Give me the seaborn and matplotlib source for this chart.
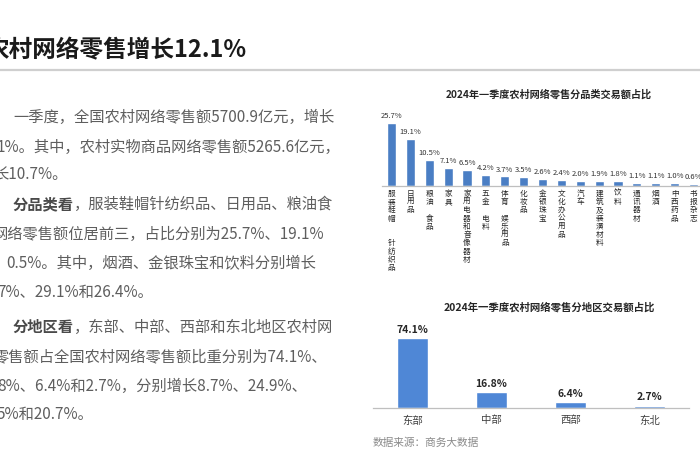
import matplotlib
matplotlib.use("Agg")
import matplotlib.pyplot as plt
import seaborn as sns

# 分品类交易额占比 (%)
categories = ["服装鞋帽  针纺织品", "日用品", "粮油 食品", "家具", "家用电器和音像器材", "五金 电料",
              "体育 娱乐用品", "化妆品", "金银珠宝", "文化办公用品", "汽车", "建筑及装潢材料",
              "饮料", "通讯器材", "烟酒", "中西药品", "书报杂志"]
category_share = [25.7, 19.1, 10.5, 7.1, 6.5, 4.2, 3.7, 3.5, 2.6, 2.4, 2.0, 1.9, 1.8, 1.1, 1.1, 1.0, 0.6]

# 分地区交易额占比 (%)
regions = ["东部", "中部", "西部", "东北"]
region_share = [74.1, 16.8, 6.4, 2.7]

page_title = "农村网络零售增长12.1%"
chart1_title = "2024年一季度农村网络零售分品类交易额占比"
chart2_title = "2024年一季度农村网络零售分地区交易额占比"
source_note = "数据来源：商务大数据"

# 左侧正文（被裁掉的行首保持原样）
body = [
    (13, 117, None, "一季度，全国农村网络零售额5700.9亿元，增长"),
    (-3, 147, None, "1%。其中，农村实物商品网络零售额5265.6亿元，"),
    (-7, 175, None, "长10.7%。"),
    (13, 204, "分品类看", "，服装鞋帽针纺织品、日用品、粮油食"),
    (-7, 234, None, "网络零售额位居前三，占比分别为25.7%、19.1%"),
    (6, 263, None, "0.5%。其中，烟酒、金银珠宝和饮料分别增长"),
    (-3, 292, None, "7%、29.1%和26.4%。"),
    (13, 327, "分地区看", "，东部、中部、西部和东北地区农村网"),
    (-7, 357, None, "零售额占全国农村网络零售额比重分别为74.1%、"),
    (-3, 386, None, "8%、6.4%和2.7%，分别增长8.7%、24.9%、"),
    (-3, 415, None, "5%和20.7%。"),
]

sns.set_theme(style="white")
plt.rcParams["font.family"] = ["Noto Sans CJK SC", "DejaVu Sans"]

W, H = 700, 470
fig = plt.figure(figsize=(7, 4.7), dpi=100)


def rect(x0, y_top, x1, y_base):
    return [x0 / W, (H - y_base) / H, (x1 - x0) / W, (y_base - y_top) / H]


# 背景层，像素坐标
bg = fig.add_axes([0, 0, 1, 1])
bg.set_xlim(0, W)
bg.set_ylim(H, 0)
bg.axis("off")

bg.text(-14, 50, page_title, fontsize=17, fontweight="bold", color="#1a1a1a", va="center", ha="left")
bg.plot([0, W], [70, 70], color="#cfcfcf", lw=1.6)

text_color = "#5e5e5e"
for x, y, bold, rest in body:
    if bold:
        t = bg.text(x, y, bold, fontsize=11, fontweight="bold", color="#4a4a4a", va="center", ha="left")
        bg.annotate(rest, xy=(1, 0.5), xycoords=t, fontsize=11, color=text_color, va="center", ha="left")
    else:
        bg.text(x, y, rest, fontsize=11, color=text_color, va="center", ha="left")

# 图1：分品类
ax1 = fig.add_axes(rect(382, 110, 703, 185.5))
sns.barplot(x=list(range(len(categories))), y=category_share, color="#4a7ec4", saturation=1,
            width=0.48, ax=ax1)
ax1.set_xlim(-0.5, len(categories) - 0.5)
ax1.set_ylim(0, 30.8)
ax1.bar_label(ax1.containers[0], labels=[f"{v:.1f}%" for v in category_share],
              fontsize=5.5, color="#333333", padding=2)
ax1.set_xticks(range(len(categories)))
ax1.set_xticklabels(["\n".join(c) for c in categories], fontsize=5.5, color="#262626", linespacing=1.05)
ax1.tick_params(axis="x", length=0, pad=3)
ax1.set_yticks([])
ax1.set_xlabel("")
ax1.set_ylabel("")
for s in ["top", "left", "right"]:
    ax1.spines[s].set_visible(False)
ax1.spines["bottom"].set_color("#bfbfbf")
ax1.spines["bottom"].set_linewidth(0.9)
bg.text(549, 95, chart1_title, fontsize=7.3, fontweight="bold", color="#262626", ha="center", va="center")

# 图2：分地区
ax2 = fig.add_axes(rect(373, 320, 689, 408.3))
sns.barplot(x=regions, y=region_share, color="#4f87d6", saturation=1, width=0.4, ax=ax2)
ax2.set_xlim(-0.5, len(regions) - 0.5)
ax2.set_ylim(0, 93.5)
ax2.bar_label(ax2.containers[0], labels=[f"{v:.1f}%" for v in region_share],
              fontsize=7.5, fontweight="bold", color="#262626", padding=2.5)
ax2.tick_params(axis="x", length=0, pad=5, labelsize=7.5, labelcolor="#404040")
ax2.set_yticks([])
ax2.set_xlabel("")
ax2.set_ylabel("")
for s in ["top", "left", "right"]:
    ax2.spines[s].set_visible(False)
ax2.spines["bottom"].set_color("#bfbfbf")
ax2.spines["bottom"].set_linewidth(0.9)
bg.text(549, 307, chart2_title, fontsize=7.5, fontweight="bold", color="#262626", ha="center", va="center")
bg.text(373, 443, source_note, fontsize=7.7, style="italic", color="#8a8a8a", ha="left", va="center")

fig.savefig("out.png", dpi=100)
